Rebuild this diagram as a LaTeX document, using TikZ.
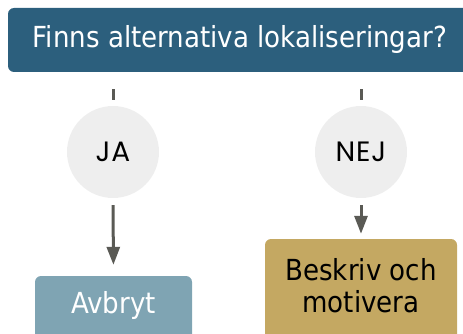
\documentclass[tikz,border=0pt]{standalone}
\usepackage{fontspec}
\setmainfont{DejaVu Sans Condensed}
\newfontfamily\roundfont[LetterSpace=3]{Poppins}
\usetikzlibrary{arrows.meta}

\definecolor{titleblue}{HTML}{2C5F7D}
\definecolor{stopblue}{HTML}{7FA4B3}
\definecolor{goldbox}{HTML}{C4A862}
\definecolor{answergray}{HTML}{EEEEEE}
\definecolor{linegray}{HTML}{5A5A55}

\tikzset{
  answer/.style={circle,fill=answergray,minimum size=92pt,inner sep=0pt,font=\roundfont\fontsize{28}{32}\selectfont},
  outcome/.style={rounded corners=6pt,inner sep=0pt,align=center,font=\fontsize{29}{32}\selectfont},
  conn/.style={draw=linegray,line width=3pt},
  tip/.style={conn,-{Triangle[length=18pt,width=13pt]}}
}

\begin{document}
\begin{tikzpicture}[x=1pt,y=-1pt]
                \clip (0,0) rectangle (463,334);
                \node[fill=titleblue,text=white,rounded corners=6pt,minimum width=464pt,minimum height=64pt,inner sep=0pt,font=\fontsize{29}{32}\selectfont] (fråga) at (240,40) {Finns alternativa lokaliseringar?};
                \node[answer] (ja) at (113,152) {JA};
                \node[answer] (nej) at (361,152) {NEJ};
                \node[outcome,fill=stopblue,text=white,minimum width=157pt,minimum height=80pt,text depth=28pt] (avbryt) at (113.5,316) {Avbryt};
                \node[outcome,fill=goldbox,text=black,minimum width=192pt,minimum height=110pt,text depth=18pt] (beskriv) at (361,294) {Beskriv och\\motivera};
                \draw[conn,shorten <=17pt,shorten >=6pt] (fråga.south -| ja) -- (ja.north);
                \draw[conn,shorten <=17pt,shorten >=6pt] (fråga.south -| nej) -- (nej.north);
                \draw[tip,shorten <=7pt,shorten >=11pt] (ja.south) -- (avbryt.north);
                \draw[tip,shorten <=7pt,shorten >=5pt] (nej.south) -- (beskriv.north);
            \end{tikzpicture}
\end{document}
